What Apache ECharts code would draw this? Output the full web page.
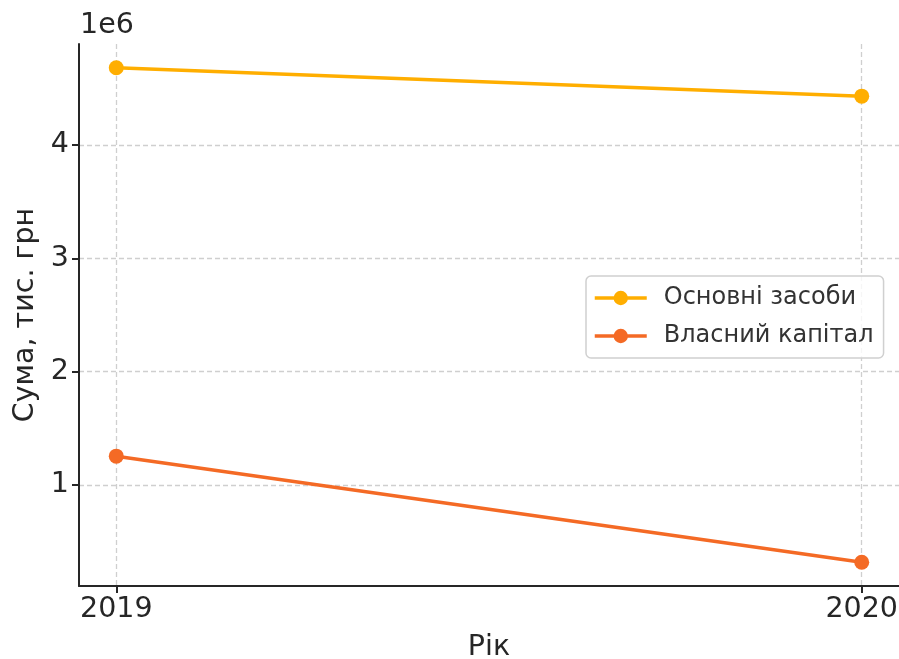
<!DOCTYPE html>
<html>
<head>
<meta charset="utf-8">
<script src="https://cdn.jsdelivr.net/npm/echarts@6/dist/echarts.min.js"></script>
<style>html,body{margin:0;padding:0;background:#fff}#c{width:899px;height:659px}</style>
</head>
<body>
<div id="c"></div>
<script>
const years = [2019, 2020];
const fixedAssets = [4680000, 4430000];
const equity = [1255000, 320000];
const yTicks = [1000000, 2000000, 3000000, 4000000];
const seriesNames = ['Основні засоби', 'Власний капітал'];

const chart = echarts.init(document.getElementById('c'), null, {renderer: 'canvas'});
const font = 'DejaVu Sans';
const txt = '#262626';
const gridLine = {show: true, lineStyle: {color: '#cfcfcf', width: 1.3, type: [5, 3]}};
chart.setOption({
  animation: false,
  textStyle: {fontFamily: font},
  grid: {left: 79, right: 0, top: 44, bottom: 73, containLabel: false, outerBoundsMode: 'none'},
  xAxis: {
    type: 'value', min: 2018.95, max: 2020.05,
    name: 'Рік', nameLocation: 'middle', nameGap: 47,
    nameTextStyle: {fontSize: 28.5, color: txt, fontFamily: font},
    axisLine: {show: true, onZero: false, lineStyle: {color: txt, width: 2}},
    axisTick: {show: true, length: 7, lineStyle: {color: txt, width: 2}, customValues: years},
    axisLabel: {fontSize: 28.5, color: txt, margin: 9, fontFamily: font, customValues: years, formatter: v => String(Math.round(v))},
    splitLine: gridLine
  },
  yAxis: {
    type: 'value', min: 110000, max: 4890000,
    name: 'Сума, тис. грн', nameLocation: 'middle', nameGap: 36, nameRotate: 90,
    nameTextStyle: {fontSize: 28.5, color: txt, fontFamily: font},
    axisLine: {show: true, lineStyle: {color: txt, width: 2}},
    axisTick: {show: true, length: 7, lineStyle: {color: txt, width: 2}, customValues: yTicks},
    axisLabel: {fontSize: 28.5, color: txt, margin: 10, fontFamily: font, customValues: yTicks, formatter: v => String(Math.round(v / 1e6))},
    splitLine: gridLine
  },
  graphic: [{type: 'text', left: 80, top: 11, style: {text: '1e6', fontSize: 28.5, fill: txt, fontFamily: font}}],
  legend: {
    orient: 'vertical', left: 586, top: 276,
    data: seriesNames,
    itemWidth: 52, itemHeight: 18, itemGap: 14,
    padding: [10, 10, 10, 7],
    borderColor: '#d0d0d0', borderWidth: 1.5, borderRadius: 5,
    backgroundColor: 'rgba(255,255,255,0.8)',
    lineStyle: {width: 3.5},
    textStyle: {fontSize: 24, color: '#333', fontFamily: font, padding: [0, 0, 0, 12]}
  },
  series: [
    {name: seriesNames[0], type: 'line', data: years.map((y, i) => [y, fixedAssets[i]]),
     symbol: 'circle', symbolSize: 15, lineStyle: {color: '#FFAE00', width: 3.5}, itemStyle: {color: '#FFAE00'}},
    {name: seriesNames[1], type: 'line', data: years.map((y, i) => [y, equity[i]]),
     symbol: 'circle', symbolSize: 15, lineStyle: {color: '#F46A25', width: 3.5}, itemStyle: {color: '#F46A25'}}
  ]
});
</script>
</body>
</html>
